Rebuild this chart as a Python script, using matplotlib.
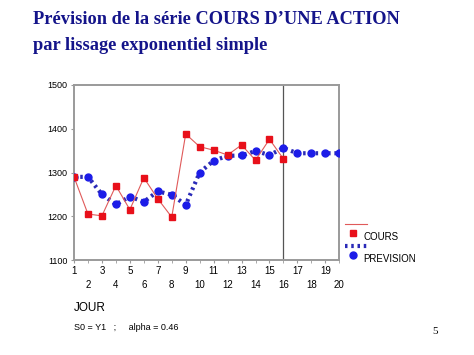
import matplotlib
matplotlib.use("Agg")
import matplotlib.pyplot as plt
from matplotlib.lines import Line2D

jour = list(range(1, 21))
cours_jour = list(range(1, 17))
cours = [1290, 1205, 1201, 1270, 1215, 1288, 1240, 1198, 1388, 1359, 1351, 1340, 1363, 1328, 1376, 1331]
prevision = [1290, 1290, 1250, 1227, 1245, 1233, 1257, 1249, 1226, 1300, 1327, 1338, 1339, 1349, 1340, 1356,
             1344, 1344, 1344, 1344]
yticks = [1100, 1200, 1300, 1400, 1500]
odd_ticks = [1, 3, 5, 7, 9, 11, 13, 15, 17, 19]
even_ticks = [2, 4, 6, 8, 10, 12, 14, 16, 18, 20]

red = "#e8101a"
red_line = "#e05a5a"
blue = "#1c1ce8"
blue_line = "#2a2ab8"
frame = "#9a9a9a"
title_color = "#14148a"

fig = plt.figure(figsize=(4.74, 3.55), dpi=100)
ax = fig.add_axes([74 / 474, 1 - 260 / 355, (339.3 - 74) / 474, (260 - 85) / 355])

ax.plot(jour, prevision, linestyle=(0, (0.6, 0.9)), color=blue_line, linewidth=3.0,
        marker="o", markersize=5, markerfacecolor=blue, markeredgecolor=blue, zorder=3)
ax.plot(cours_jour, cours, color=red_line, linewidth=0.8, marker="s", markersize=5,
        markerfacecolor=red, markeredgecolor=red, zorder=4)
ax.axvline(16, color="#555555", linewidth=0.9, zorder=2)

ax.set_xlim(1, 20)
ax.set_ylim(1100, 1500)
ax.set_yticks(yticks)
ax.set_yticklabels([str(v) for v in yticks], fontsize=6.5, family="Liberation Sans")
ax.set_xticks(odd_ticks)
ax.set_xticklabels([str(v) for v in odd_ticks], fontsize=7, family="Liberation Sans")
ax.set_xticks(even_ticks, minor=True)
ax.set_xticklabels([str(v) for v in even_ticks], minor=True, fontsize=7, family="Liberation Sans")
ax.tick_params(axis="x", which="major", length=2.5, pad=2, color=frame)
ax.tick_params(axis="x", which="minor", length=2.5, pad=12, color=frame)
ax.tick_params(axis="y", length=2.5, pad=2, color=frame)
for s in ax.spines.values():
    s.set_color(frame)
    s.set_linewidth(1.4)

# Title
fig.text(33 / 474, 1 - 20 / 355, "Prévision de la série COURS D’UNE ACTION", fontsize=13.2,
         family="Liberation Serif", weight="bold", color=title_color, va="center", ha="left")
fig.text(33 / 474, 1 - 45 / 355, "par lissage exponentiel simple", fontsize=13.2,
         family="Liberation Serif", weight="bold", color=title_color, va="center", ha="left")

# Legend (manual layout)
fig.add_artist(Line2D([345 / 474, 367 / 474], [1 - 224 / 355] * 2, color=red_line, linewidth=0.8))
fig.add_artist(Line2D([353 / 474], [1 - 233 / 355], marker="s", markersize=5, color=red, linestyle="none"))
fig.text(363 / 474, 1 - 237 / 355, "COURS", fontsize=7, family="Liberation Sans", va="center")
fig.add_artist(Line2D([345 / 474, 367 / 474], [1 - 246 / 355] * 2, color=blue_line, linewidth=3.0,
                      linestyle=(0, (0.6, 0.9))))
fig.add_artist(Line2D([353 / 474], [1 - 255 / 355], marker="o", markersize=5, color=blue, linestyle="none"))
fig.text(363 / 474, 1 - 259 / 355, "PREVISION", fontsize=7, family="Liberation Sans", va="center")

fig.text(74 / 474, 1 - 308 / 355, "JOUR", fontsize=8.5, family="Liberation Sans", va="center")
fig.text(74 / 474, 1 - 328 / 355, "S0 = Y1   ;     alpha = 0.46", fontsize=6.5, family="Liberation Sans", va="center")
fig.text(432 / 474, 1 - 332 / 355, "5", fontsize=8, family="Liberation Serif", va="center")

fig.savefig("out.png", dpi=100)
